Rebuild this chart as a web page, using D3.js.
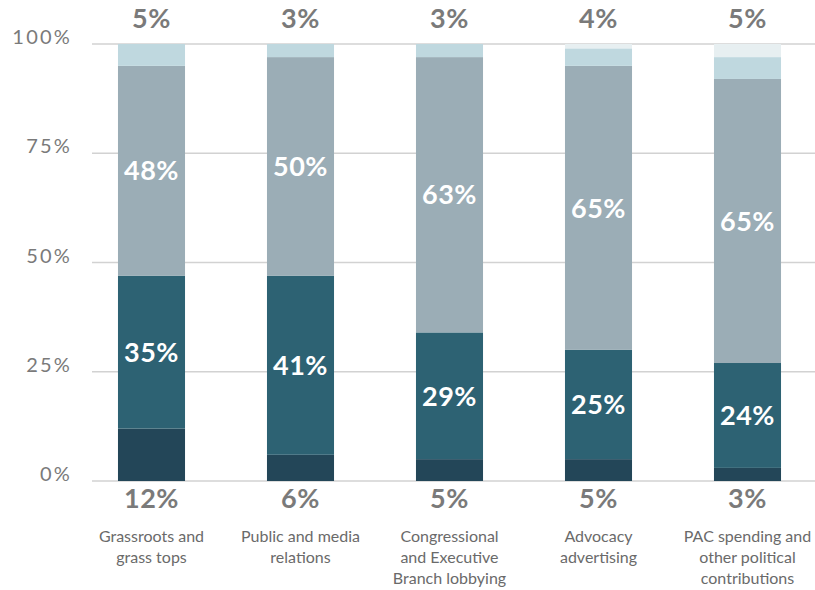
<!DOCTYPE html>
<html>
<head>
<meta charset="utf-8">
<script src="https://cdn.jsdelivr.net/npm/d3@7"></script>
<style>
  html, body { margin: 0; padding: 0; background: #fff; }
  svg { display: block; font-family: Lato, "Open Sans", sans-serif; }
</style>
</head>
<body>
<svg id="chart" width="815" height="590"></svg>
<script>
// Share of spending by activity (percent of each activity's total)
const categories = [
  ["Grassroots and", "grass tops"],
  ["Public and media", "relations"],
  ["Congressional", "and Executive", "Branch lobbying"],
  ["Advocacy", "advertising"],
  ["PAC spending and", "other political", "contributions"]
];
const seriesNames = ["dark", "teal", "gray", "light", "pale"];
const darkValues  = [12, 6, 5, 5, 3];     // labelled below each bar
const tealValues  = [35, 41, 29, 25, 24]; // labelled inside
const grayValues  = [48, 50, 63, 65, 65]; // labelled inside
const lightValues = [5, 3, 3, 4, 5];      // labelled above each bar
const paleValues  = [0, 0, 0, 1, 3];      // unlabelled remainder
const yTicks = [0, 25, 50, 75, 100];
const colors = ["#234658", "#2d6273", "#9badb6", "#bfd8df", "#e7eff1"];

const rows = categories.map((c, i) => ({
  idx: i,
  dark: darkValues[i], teal: tealValues[i], gray: grayValues[i],
  light: lightValues[i], pale: paleValues[i]
}));

const svg = d3.select("#chart");
const y = d3.scaleLinear().domain([0, 100]).range([481, 44]);
const x = d3.scaleBand().domain(d3.range(categories.length))
  .range([77, 822]).paddingInner(0.55).paddingOuter(0.275);

// gridlines
svg.append("g").selectAll("line").data(yTicks).join("line")
  .attr("x1", 92).attr("x2", 815)
  .attr("y1", d => y(d)).attr("y2", d => y(d))
  .attr("stroke", "#d2d2d2").attr("stroke-width", 1.5);

// y tick labels sit on their gridline
const yAxis = d3.axisLeft(y).tickValues(yTicks).tickFormat(d => d + "%").tickSize(0).tickPadding(0);
const ya = svg.append("g").attr("transform", "translate(72,0)").call(yAxis);
ya.select(".domain").remove();
ya.selectAll("text")
  .attr("dy", "-0.02em")
  .attr("font-family", "Lato, sans-serif")
  .attr("font-size", 20).attr("letter-spacing", 2.2)
  .attr("fill", "#7a7a7a");

// stacked bars
const stack = d3.stack().keys(seriesNames)(rows);
svg.append("g").selectAll("g").data(stack).join("g")
  .attr("fill", (d, i) => colors[i])
  .selectAll("rect").data(d => d).join("rect")
  .attr("x", d => x(d.data.idx))
  .attr("width", x.bandwidth())
  .attr("y", d => y(d[1]))
  .attr("height", d => y(d[0]) - y(d[1]));

const cx = i => x(i) + x.bandwidth() / 2;
const labelFont = g => g.attr("font-family", "Lato, sans-serif")
  .attr("font-weight", 700).attr("font-size", 27)
  .attr("text-anchor", "middle").attr("letter-spacing", 0.5);

// values inside the teal and gray segments
[1, 2].forEach(k => {
  svg.append("g").call(labelFont).attr("fill", "#fff")
    .selectAll("text").data(stack[k]).join("text")
    .attr("x", d => cx(d.data.idx))
    .attr("y", d => (y(d[0]) + y(d[1])) / 2)
    .attr("dy", "0.36em")
    .text(d => (d[1] - d[0]) + "%");
});

// dark segment value below each bar
svg.append("g").call(labelFont).attr("fill", "#7a7a7a")
  .selectAll("text").data(rows).join("text")
  .attr("x", d => cx(d.idx)).attr("y", 508)
  .text(d => d.dark + "%");

// light segment value above each bar
svg.append("g").call(labelFont).attr("fill", "#7a7a7a")
  .selectAll("text").data(rows).join("text")
  .attr("x", d => cx(d.idx)).attr("y", 28)
  .text(d => d.light + "%");

// category names
svg.append("g").selectAll("text").data(categories).join("text")
  .attr("font-family", "Lato, sans-serif").attr("font-size", 16)
  .attr("fill", "#6a6a6a").attr("text-anchor", "middle")
  .attr("x", (d, i) => cx(i)).attr("y", 542)
  .selectAll("tspan").data(d => d).join("tspan")
  .attr("x", function () { return d3.select(this.parentNode).attr("x"); })
  .attr("dy", (d, j) => j === 0 ? 0 : 21)
  .text(d => d);
</script>
</body>
</html>
